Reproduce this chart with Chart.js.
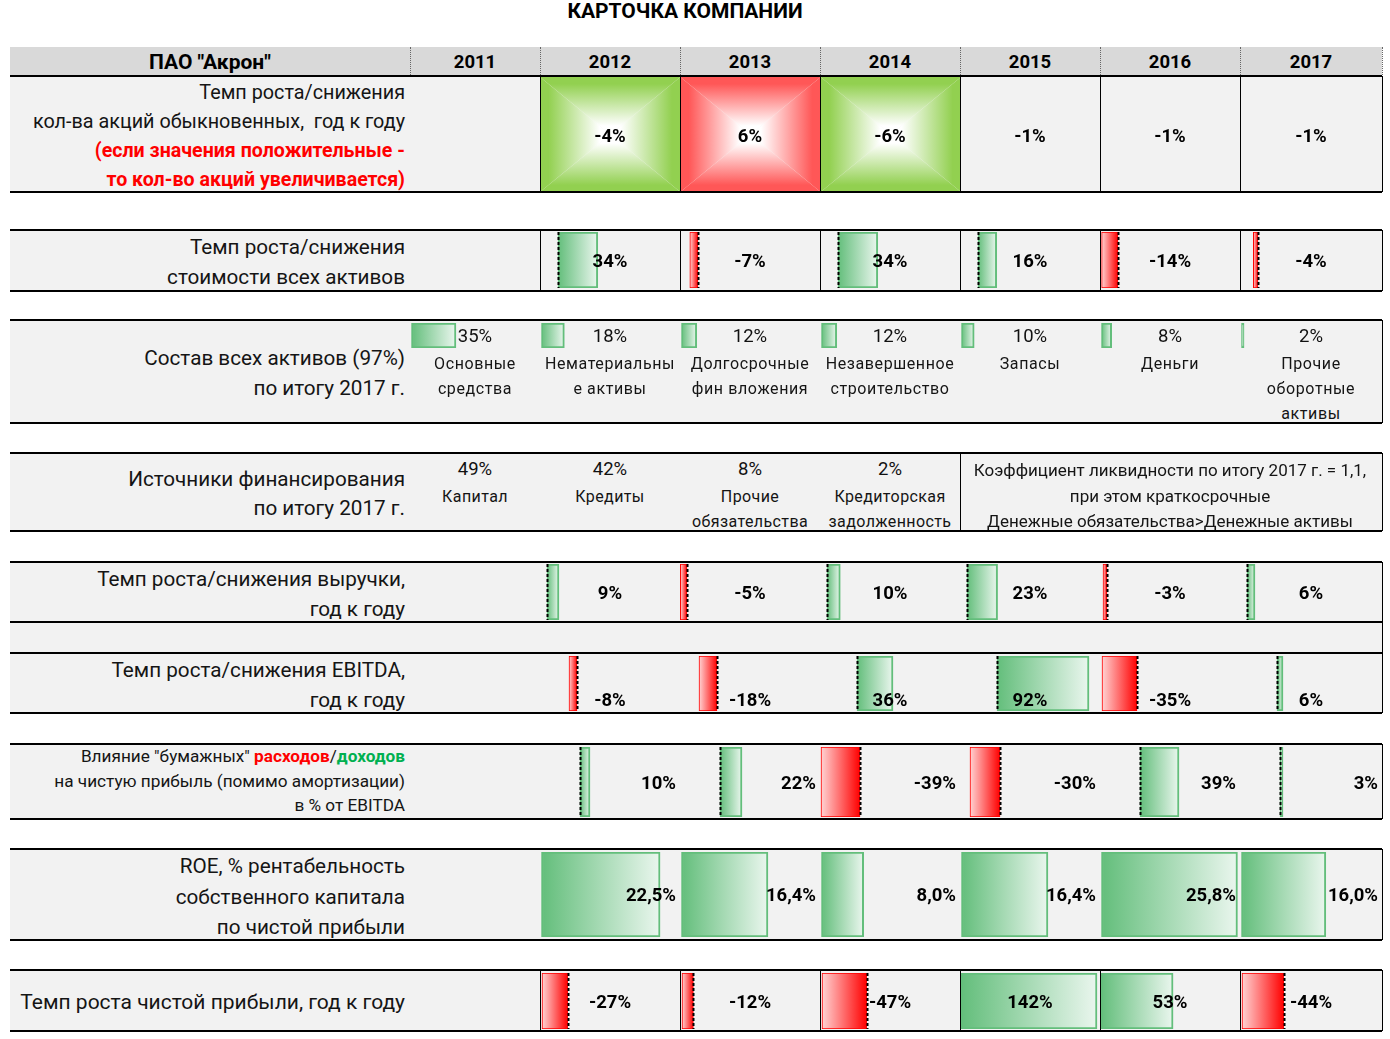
<!DOCTYPE html>
<html>
<head>
<meta charset="utf-8">
<title>Карточка компании</title>
<script src="https://cdn.jsdelivr.net/npm/chart.js@4.4.0/dist/chart.umd.min.js"></script>
<style>
    body { margin: 0; background: #fff; }
    #card { position: relative; width: 1390px; height: 1039px; overflow: hidden; font-family: Roboto, "Noto Sans", sans-serif; }
    .t { position: absolute; white-space: nowrap; line-height: 1; z-index: 5; }
    .box { position: absolute; }
    canvas { position: absolute; z-index: 2; }
</style>
</head>
<body>
<div id="card"></div>
<script>
const years = ['2011', '2012', '2013', '2014', '2015', '2016', '2017'];
const sharesGrowth = [null, -4, 6, -6, -1, -1, -1];
const assetsGrowth = [null, 34, -7, 34, 16, -14, -4];
const assetShare = [35, 18, 12, 12, 10, 8, 2];
const assetNames = [
    ['Основные', 'средства'],
    ['Нематериальны', 'е активы'],
    ['Долгосрочные', 'фин вложения'],
    ['Незавершенное', 'строительство'],
    ['Запасы'],
    ['Деньги'],
    ['Прочие', 'оборотные', 'активы']
];
const fundingShare = [49, 42, 8, 2];
const fundingNames = [['Капитал'], ['Кредиты'], ['Прочие', 'обязательства'], ['Кредиторская', 'задолженность']];
const liquidityNote = [
    'Коэффициент ликвидности по итогу 2017 г. = 1,1,',
    'при этом краткосрочные',
    'Денежные обязательства>Денежные активы'
];
const revenueGrowth = [null, 9, -5, 10, 23, -3, 6];
const ebitdaGrowth = [null, -8, -18, 36, 92, -35, 6];
const paperEffect = [null, 10, 22, -39, -30, 39, 3];
const roe = [null, 22.5, 16.4, 8.0, 16.4, 25.8, 16.0];
const netProfitGrowth = [null, -27, -12, -47, 142, 53, -44];

// Layout
const COLS = [410, 540, 680, 820, 960, 1100, 1240, 1382]; // column edges 2011..2017
const LEFT = 10, RIGHT = 1382, LABEL_X = 405;
const GREEN = '#63be7b', GREEN_LIGHT = '#eaf6ee';
const RED = '#ff0000', RED_LIGHT = '#ffd3d3';
const BG = '#f2f2f2';
const card = document.getElementById('card');

function box(x, y, w, h, css) {
    const d = document.createElement('div');
    d.className = 'box';
    d.style.left = x + 'px'; d.style.top = y + 'px';
    d.style.width = w + 'px'; d.style.height = h + 'px';
    Object.assign(d.style, css || {});
    card.appendChild(d);
    return d;
}
function hline(y, x1 = LEFT, x2 = RIGHT) { box(x1, y - 1, x2 - x1, 2, { background: '#000', zIndex: 4 }); }
function vline(x, y1, y2, style) {
    if (style === 'dotted') box(x, y1, 0, y2 - y1, { borderLeft: '1px dotted #666', zIndex: 4 });
    else box(x, y1, 1, y2 - y1, { background: '#000', zIndex: 4 });
}
function text(str, x, y, opts = {}) {
    const d = document.createElement('div');
    d.className = 't';
    d.innerHTML = str;
    d.style.left = x + 'px'; d.style.top = y + 'px';
    const a = opts.align || 'center';
    d.style.transform = a === 'center' ? 'translate(-50%,-50%)' : a === 'right' ? 'translate(-100%,-50%)' : 'translate(0,-50%)';
    d.style.font = opts.font || '20.7px Roboto';
    d.style.color = opts.color || '#151515';
    if (opts.ls) d.style.letterSpacing = opts.ls;
    card.appendChild(d);
}
function pct(v, dec) {
    return (dec ? v.toFixed(dec).replace('.', ',') : String(v)) + '%';
}
const colMid = i => (COLS[i] + COLS[i + 1]) / 2;

// ---------- title and header ----------
text('КАРТОЧКА КОМПАНИИ', 685, 11, { font: 'bold 21px Roboto', color: '#000' });
box(LEFT, 47, RIGHT - LEFT, 28, { background: '#d9d9d9' });
text('ПАО "Акрон"', 210, 62, { font: 'bold 21px Roboto', color: '#000' });
years.forEach((y, i) => text(y, colMid(i), 62, { font: 'bold 18.5px Roboto', color: '#000' }));
COLS.forEach(x => vline(x, 47, 75, 'dotted'));
hline(76);

// ---------- row backgrounds and borders ----------
const rowBands = [[76, 192], [230, 291], [320, 423], [453, 531], [562, 713], [744, 819], [849, 940], [970, 1031]];
rowBands.forEach(([t, b]) => {
    box(LEFT, t, RIGHT - LEFT, b - t, { background: BG });
    if (t !== 76) hline(t);
    hline(b);
    vline(RIGHT, t, b);
});
hline(622); hline(653);
[540, 680, 820, 960, 1100, 1240].forEach(x => {
    vline(x, 76, 192);
    vline(x, 230, 291);
    vline(x, 970, 1031);
});
vline(960, 453, 531);

// ---------- row labels ----------
const L = { align: 'right' };
const R1 = { align: 'right', font: '19.8px Roboto' };
const R1red = { align: 'right', font: 'bold 19.6px Roboto', color: '#ff0000' };
text('Темп роста/снижения', LABEL_X, 92, R1);
text('кол-ва акций обыкновенных,&nbsp; год к году', LABEL_X, 121, R1);
text('(если значения положительные -', LABEL_X, 150, R1red);
text('то кол-во акций увеличивается)', LABEL_X, 179, R1red);
text('Темп роста/снижения', LABEL_X, 247, L);
text('стоимости всех активов', LABEL_X, 277, L);
text('Состав всех активов (97%)', LABEL_X, 358, L);
text('по итогу 2017 г.', LABEL_X, 388, L);
text('Источники финансирования', LABEL_X, 479, L);
text('по итогу 2017 г.', LABEL_X, 508, L);
text('Темп роста/снижения выручки,', LABEL_X, 579, L);
text('год к году', LABEL_X, 609, L);
text('Темп роста/снижения EBITDA,', LABEL_X, 670, L);
text('год к году', LABEL_X, 700, L);
const R7 = { align: 'right', font: '17.2px Roboto' };
text('Влияние "бумажных" <b style="color:#ff0000">расходов</b>/<b style="color:#00b050">доходов</b>', LABEL_X, 756, R7);
text('на чистую прибыль (помимо амортизации)', LABEL_X, 781, R7);
text('в % от EBITDA', LABEL_X, 805, R7);
text('ROE, % рентабельность', LABEL_X, 866, L);
text('собственного капитала', LABEL_X, 897, L);
text('по чистой прибыли', LABEL_X, 927, L);
text('Темп роста чистой прибыли, год к году', LABEL_X, 1002, { align: 'right', font: '21px Roboto' });

// ---------- row 1: colour-coded cells (centre gradient) ----------
function cellColor(v) {
    if (v <= -3) return '#92d050';
    if (v >= 3) return '#ff5757';
    return null;
}
const centerFill = {
    id: 'centerFill',
    afterDatasetsDraw(chart) {
        const ctx = chart.ctx;
        chart.getDatasetMeta(0).data.forEach((bar, i) => {
            const col = cellColor(sharesGrowth[i + 1]);
            if (!col) return;
            const p = bar.getProps(['x', 'y', 'base', 'width'], true);
            const l = p.x - p.width / 2, r = p.x + p.width / 2;
            const t = Math.min(p.y, p.base), b = Math.max(p.y, p.base);
            const cx = (l + r) / 2, cy = (t + b) / 2;
            const tris = [
                [[l, t], [r, t], [cx, t]],
                [[l, b], [r, b], [cx, b]],
                [[l, t], [l, b], [l, cy]],
                [[r, t], [r, b], [r, cy]]
            ];
            tris.forEach(([a, c, edge]) => {
                const g = ctx.createLinearGradient(edge[0], edge[1], cx, cy);
                g.addColorStop(0, col);
                g.addColorStop(0.12, col);
                g.addColorStop(0.85, '#ffffff');
                g.addColorStop(1, '#ffffff');
                ctx.fillStyle = g;
                ctx.beginPath();
                ctx.moveTo(a[0], a[1]); ctx.lineTo(c[0], c[1]); ctx.lineTo(cx, cy);
                ctx.closePath(); ctx.fill();
            });
        });
    }
};
(function () {
    const cv = document.createElement('canvas');
    cv.width = COLS[7] - COLS[1]; cv.height = 115;
    cv.style.left = COLS[1] + 'px'; cv.style.top = '77px';
    card.appendChild(cv);
    new Chart(cv, {
        type: 'bar',
        data: {
            labels: years.slice(1),
            datasets: [{
                data: sharesGrowth.slice(1).map(() => [0, 1]),
                backgroundColor: 'rgba(0,0,0,0)',
                barPercentage: 1, categoryPercentage: 1
            }]
        },
        options: {
            responsive: false, animation: false, devicePixelRatio: 1,
            plugins: { legend: { display: false }, tooltip: { enabled: false } },
            scales: { x: { display: false }, y: { display: false, min: 0, max: 1 } }
        },
        plugins: [centerFill]
    });
    sharesGrowth.forEach((v, i) => {
        if (v !== null) text(pct(v), colMid(i), 136, { font: 'bold 18.5px Roboto', color: '#000' });
    });
})();

// ---------- data bar cells ----------
const axisLine = {
    id: 'axisLine',
    afterDatasetsDraw(chart) {
        const x = Math.round(chart.scales.x.getPixelForValue(0)) + 0.5;
        const ctx = chart.ctx;
        ctx.save();
        ctx.strokeStyle = '#000';
        ctx.lineWidth = 2;
        ctx.setLineDash([3, 2]);
        ctx.beginPath();
        ctx.moveTo(x, chart.chartArea.top);
        ctx.lineTo(x, chart.chartArea.bottom);
        ctx.stroke();
        ctx.restore();
    }
};

function barFill(context) {
    const chart = context.chart;
    if (!chart.chartArea) return GREEN;
    const v = context.raw;
    const xs = chart.scales.x;
    const x0 = xs.getPixelForValue(0), x1 = xs.getPixelForValue(v);
    const g = chart.ctx.createLinearGradient(x0, 0, x1 === x0 ? x0 + 1 : x1, 0);
    g.addColorStop(0, v < 0 ? RED : GREEN);
    g.addColorStop(1, v < 0 ? RED_LIGHT : GREEN_LIGHT);
    return g;
}

function dataBarCell(col, top, bottom, value, ppu, axisPx, showAxis) {
    const w = COLS[col + 1] - COLS[col];
    const cv = document.createElement('canvas');
    cv.width = w; cv.height = bottom - top;
    cv.style.left = COLS[col] + 'px'; cv.style.top = top + 'px';
    card.appendChild(cv);
    new Chart(cv, {
        type: 'bar',
        data: {
            labels: [years[col]],
            datasets: [{
                data: [value],
                backgroundColor: barFill,
                borderColor: value < 0 ? RED : GREEN,
                borderWidth: value < 0 ? 1 : 2,
                borderSkipped: false,
                barPercentage: 1, categoryPercentage: 1
            }]
        },
        options: {
            indexAxis: 'y',
            responsive: false, animation: false, devicePixelRatio: 1,
            layout: { padding: 0 },
            plugins: { legend: { display: false }, tooltip: { enabled: false } },
            scales: {
                x: { type: 'linear', display: false, min: -axisPx / ppu, max: (w - axisPx) / ppu },
                y: { display: false }
            }
        },
        plugins: showAxis ? [axisLine] : []
    });
}

const barRows = [
    { values: assetsGrowth, top: 232, bottom: 288, ppu: 1.17, axis: 18, showAxis: true, labelY: 261, align: 'center' },
    { values: revenueGrowth, top: 564, bottom: 620, ppu: 1.33, axis: 7, showAxis: true, labelY: 593, align: 'center' },
    { values: ebitdaGrowth, top: 656, bottom: 711, ppu: 1.0, axis: 37, showAxis: true, labelY: 700, align: 'center' },
    { values: paperEffect, top: 747, bottom: 817, ppu: 1.0, axis: 40, showAxis: true, labelY: 783, align: 'right' },
    { values: roe, top: 852, bottom: 937, ppu: 5.27, axis: 1.5, showAxis: false, labelY: 895, align: 'right', dec: 1 },
    { values: netProfitGrowth, top: 973, bottom: 1029, perCell: true, labelY: 1002, align: 'center' }
];

barRows.forEach(row => {
    row.values.forEach((v, i) => {
        if (v === null) return;
        const w = COLS[i + 1] - COLS[i];
        if (row.perCell) {
            // each cell of this row has its own scale, as in the source sheet
            if (v < 0) dataBarCell(i, row.top, row.bottom, v, 0.95, -v * 0.95 + 2, true);
            else dataBarCell(i, row.top, row.bottom, v, Math.min(1.36, (w - 4) / v), 1, false);
        } else {
            dataBarCell(i, row.top, row.bottom, v, row.ppu, row.axis, row.showAxis);
        }
        const x = row.align === 'right' ? COLS[i + 1] - 4 : colMid(i);
        text(pct(v, row.dec), x, row.labelY, { align: row.align, font: 'bold 18.5px Roboto', color: '#000' });
    });
});

// ---------- asset structure row ----------
assetShare.forEach((v, i) => {
    dataBarCell(i, 323, 348, v, 1.27, 1.5, false);
    text(pct(v), colMid(i), 336, { font: '18.5px Roboto', color: '#111' });
    assetNames[i].forEach((s, k) => text(s, colMid(i), 363 + k * 25, { font: '16px Roboto', ls: '0.6px' }));
});

// ---------- funding sources row ----------
fundingShare.forEach((v, i) => {
    text(pct(v), colMid(i), 469, { font: '18.5px Roboto', color: '#111' });
    fundingNames[i].forEach((s, k) => text(s, colMid(i), 496 + k * 25, { font: '16px Roboto', ls: '0.4px' }));
});
liquidityNote.forEach((s, k) => text(s, 1170, 470 + k * 25.5, { font: '17px Roboto' }));
</script>
</body>
</html>
